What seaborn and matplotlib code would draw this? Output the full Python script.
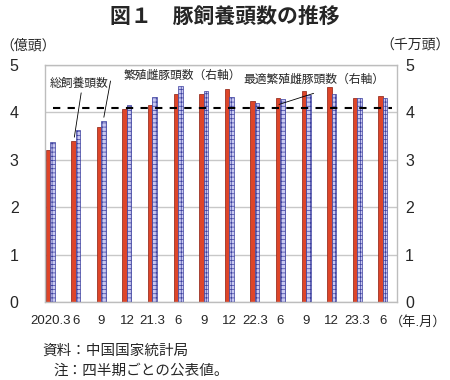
import numpy as np
import pandas as pd
import matplotlib
matplotlib.use("Agg")
import matplotlib.pyplot as plt
import seaborn as sns

# quarterly periods
periods = ["2020.3", "2020.6", "2020.9", "2020.12", "2021.3", "2021.6", "2021.9",
           "2021.12", "2022.3", "2022.6", "2022.9", "2022.12", "2023.3", "2023.6"]
tick_labels = ["2020.3", "6", "9", "12", "21.3", "6", "9", "12", "22.3", "6", "9", "12", "23.3", "6"]

# 総飼養頭数 (億頭, left axis)
total_pigs = [3.21, 3.39, 3.70, 4.07, 4.16, 4.39, 4.38, 4.49, 4.23, 4.30, 4.45, 4.53, 4.30, 4.35]
# 繁殖雌豚頭数 (千万頭, right axis)
sows = [3.38, 3.63, 3.82, 4.16, 4.32, 4.56, 4.46, 4.33, 4.19, 4.28, 4.36, 4.39, 4.31, 4.30]
# 最適繁殖雌豚頭数 (千万頭, right axis)
optimal_sows = 4.1

series_names = ["総飼養頭数", "繁殖雌豚頭数"]
red = "#DE4529"
blue = "#C9C9F2"

df = pd.DataFrame({
    "period": periods * 2,
    "value": total_pigs + sows,
    "series": [series_names[0]] * len(periods) + [series_names[1]] * len(periods),
})

sns.set_theme(style="white")
plt.rcParams["font.family"] = ["Liberation Sans", "Noto Sans CJK JP", "DejaVu Sans"]
plt.rcParams["hatch.linewidth"] = 0.5

fig = plt.figure(figsize=(4.5, 3.8), dpi=100)
ax = fig.add_axes([0.1, 0.205, 0.782, 0.624])

sns.barplot(data=df, x="period", y="value", hue="series", order=periods,
            hue_order=series_names, palette=[red, blue], width=0.35, gap=0,
            dodge=True, legend=False, ax=ax, saturation=1)

n = len(periods)
for i, p in enumerate(ax.patches[:2 * n]):
    if i < n:
        p.set_edgecolor("#8A1C0E")
        p.set_linewidth(0.5)
    else:
        p.set_edgecolor("#3B3F9E")
        p.set_hatch("++++")
        p.set_linewidth(0.5)

ax.hlines(optimal_sows, 0.1, 13.34, colors="black", linewidth=1.5,
          linestyles=(0, (3.5, 3.5)), zorder=3)

ax.set_xlim(-0.2, 13.55)
ax.set_ylim(0, 5)
ax.set_yticks(range(6))
ax.set_yticklabels([str(v) for v in range(6)], fontsize=11.5)
ax.set_xticks(range(n))
ax.set_xticklabels(tick_labels, fontsize=9.5)
ax.set_xticks(np.arange(0.5, n, 1), minor=True)
ax.tick_params(axis="x", which="major", length=0, pad=9)
ax.tick_params(axis="x", which="minor", direction="in", length=4, color="#A0A0A0", width=0.8)
ax.tick_params(axis="y", length=0, pad=19)
ax.set_xlabel("")
ax.set_ylabel("")
ax.yaxis.grid(True, color="#C8C8C8", linewidth=1)
ax.set_axisbelow(True)
for s in ax.spines.values():
    s.set_color("#BDBDBD")
    s.set_linewidth(1)

ax2 = ax.twinx()
ax2.set_ylim(0, 5)
ax2.set_yticks(range(6))
ax2.set_yticklabels([str(v) for v in range(6)], fontsize=11.5)
ax2.tick_params(axis="y", length=0, pad=6)
ax2.grid(False)
for s in ax2.spines.values():
    s.set_visible(False)

# series labels with leader lines
ax.text(1.15, 4.60, "総飼養頭数", fontsize=8.5, ha="center", va="center")
ax.annotate("", xy=(0.93, 3.42), xytext=(1.23, 4.47),
            arrowprops=dict(arrowstyle="-", color="black", lw=0.6))
ax.text(5.18, 4.77, "繁殖雌豚頭数（右軸）", fontsize=8.5, ha="center", va="center")
ax.annotate("", xy=(2.08, 3.84), xytext=(2.38, 4.72),
            arrowprops=dict(arrowstyle="-", color="black", lw=0.6))
ax.text(10.3, 4.68, "最適繁殖雌豚頭数（右軸）", fontsize=8.5, ha="center", va="center")
ax.annotate("", xy=(8.84, 4.15), xytext=(10.4, 4.42),
            arrowprops=dict(arrowstyle="-", color="black", lw=0.6))

fig.text(0.5, 0.955, "図１　豚飼養頭数の推移", fontsize=15, fontweight="bold",
         ha="center", va="center")
fig.text(0.0, 0.88, "（億頭）", fontsize=10, ha="left", va="center")
fig.text(1.0, 0.88, "（千万頭）", fontsize=10, ha="right", va="center")
fig.text(0.866, 0.152, "（年.月）", fontsize=9.5, ha="left", va="center")
fig.text(0.095, 0.076, "資料：中国国家統計局", fontsize=10.5, ha="left", va="center")
fig.text(0.118, 0.024, "注：四半期ごとの公表値。", fontsize=10.5, ha="left", va="center")

fig.savefig("out.png", dpi=100)
